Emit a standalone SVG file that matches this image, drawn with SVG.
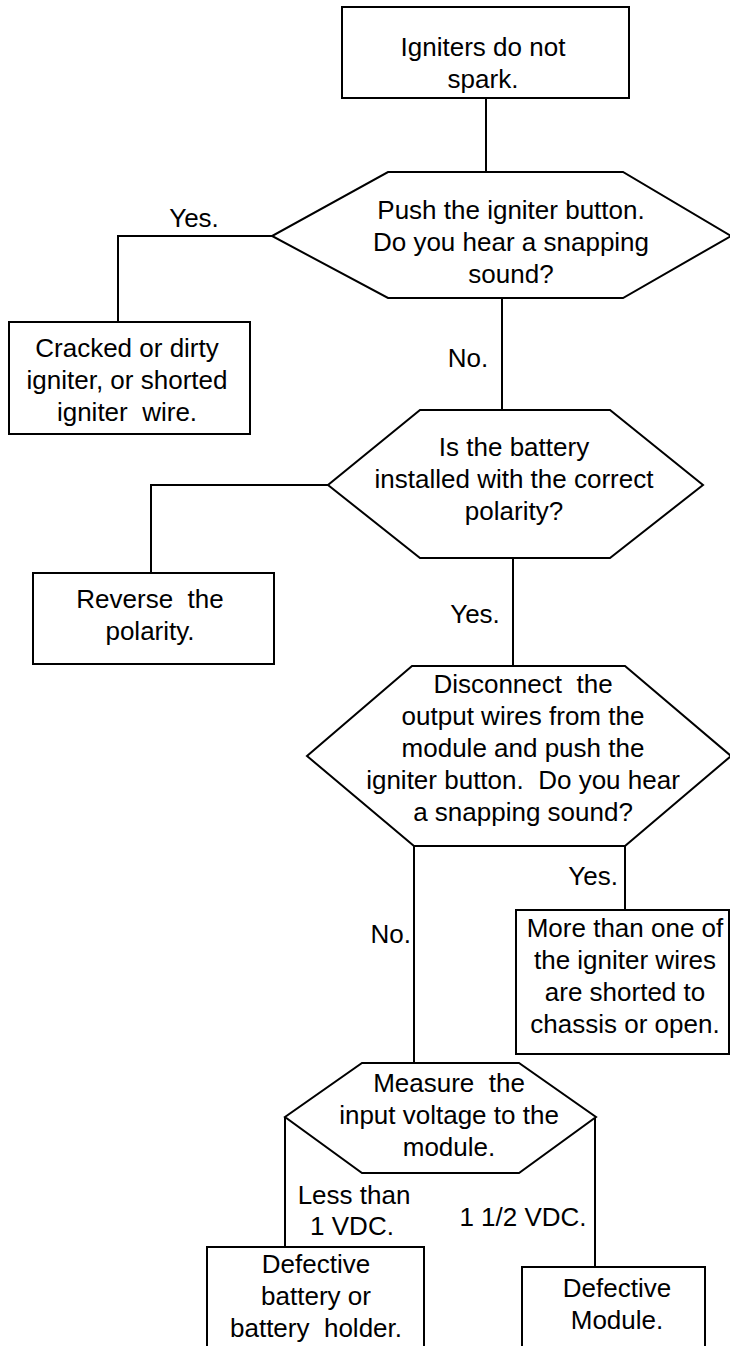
<svg xmlns="http://www.w3.org/2000/svg" width="730" height="1346" viewBox="0 0 730 1346">
<style>
.s{fill:#fff;stroke:#000;stroke-width:2}
.c{fill:none;stroke:#000;stroke-width:2}
text{font-family:"Liberation Sans",Arial,sans-serif;font-size:26px;fill:#000;white-space:pre}
.m{text-anchor:middle}
.e{text-anchor:end}
</style>
<rect width="730" height="1346" fill="#fff"/>
<g id="connectors">
<line class="c" x1="486" y1="98" x2="486" y2="172"/>
<polyline class="c" points="272,236 118,236 118,322"/>
<line class="c" x1="502" y1="298" x2="502" y2="410"/>
<polyline class="c" points="328,485 151,485 151,573"/>
<line class="c" x1="513" y1="558" x2="513" y2="666"/>
<line class="c" x1="414" y1="846" x2="414" y2="1063"/>
<line class="c" x1="625" y1="846" x2="625" y2="910"/>
<line class="c" x1="285" y1="1117" x2="285" y2="1247"/>
<line class="c" x1="595" y1="1117" x2="595" y2="1267"/>
<text class="m" x="194" y="227">Yes.</text>
<text class="m" x="468" y="367">No.</text>
<text class="m" x="475" y="623">Yes.</text>
<text class="e" x="618" y="885">Yes.</text>
<text class="e" x="411" y="943">No.</text>
<text class="m" x="354" y="1204">Less than</text>
<text class="m" x="352" y="1235">1 VDC.</text>
<text class="m" x="523" y="1226">1 1/2 VDC.</text>
</g>
<g id="start">
<rect class="s" x="342" y="7" width="287" height="91"/>
<text class="m" x="483" y="56">Igniters do not</text>
<text class="m" x="483" y="88">spark.</text>
</g>
<g id="q1">
<polygon class="s" points="388,172 623,172 731,236 623,298 388,298 272,236"/>
<text class="m" x="511" y="219">Push the igniter button.</text>
<text class="m" x="511" y="251">Do you hear a snapping</text>
<text class="m" x="511" y="283">sound?</text>
</g>
<g id="r1">
<rect class="s" x="9" y="322" width="241" height="112"/>
<text class="m" x="127" y="357">Cracked or dirty</text>
<text class="m" x="127" y="389">igniter, or shorted</text>
<text class="m" x="127" y="421">igniter  wire.</text>
</g>
<g id="q2">
<polygon class="s" points="420,410 610,410 703,485 610,558 420,558 328,485"/>
<text class="m" x="514" y="456">Is the battery</text>
<text class="m" x="514" y="488">installed with the correct</text>
<text class="m" x="514" y="520">polarity?</text>
</g>
<g id="r2">
<rect class="s" x="33" y="573" width="241" height="91"/>
<text class="m" x="150" y="608">Reverse  the</text>
<text class="m" x="150" y="640">polarity.</text>
</g>
<g id="q3">
<polygon class="s" points="412,666 625,666 731,756 625,846 414,846 307,756"/>
<text class="m" x="523" y="693">Disconnect  the</text>
<text class="m" x="523" y="725">output wires from the</text>
<text class="m" x="523" y="757">module and push the</text>
<text class="m" x="523" y="789">igniter button.  Do you hear</text>
<text class="m" x="523" y="821">a snapping sound?</text>
</g>
<g id="r3">
<rect class="s" x="516" y="910" width="213" height="144"/>
<text class="m" x="625" y="937">More than one of</text>
<text class="m" x="625" y="969">the igniter wires</text>
<text class="m" x="625" y="1001">are shorted to</text>
<text class="m" x="625" y="1033">chassis or open.</text>
</g>
<g id="q4">
<polygon class="s" points="362,1063 519,1063 596,1117 519,1173 362,1173 285,1117"/>
<text class="m" x="449" y="1092">Measure  the</text>
<text class="m" x="449" y="1124">input voltage to the</text>
<text class="m" x="449" y="1156">module.</text>
</g>
<g id="r4">
<rect class="s" x="207" y="1247" width="217" height="120"/>
<text class="m" x="316" y="1273">Defective</text>
<text class="m" x="316" y="1305">battery or</text>
<text class="m" x="316" y="1337">battery  holder.</text>
</g>
<g id="r5">
<rect class="s" x="522" y="1267" width="183" height="100"/>
<text class="m" x="617" y="1297">Defective</text>
<text class="m" x="617" y="1329">Module.</text>
</g>
</svg>
